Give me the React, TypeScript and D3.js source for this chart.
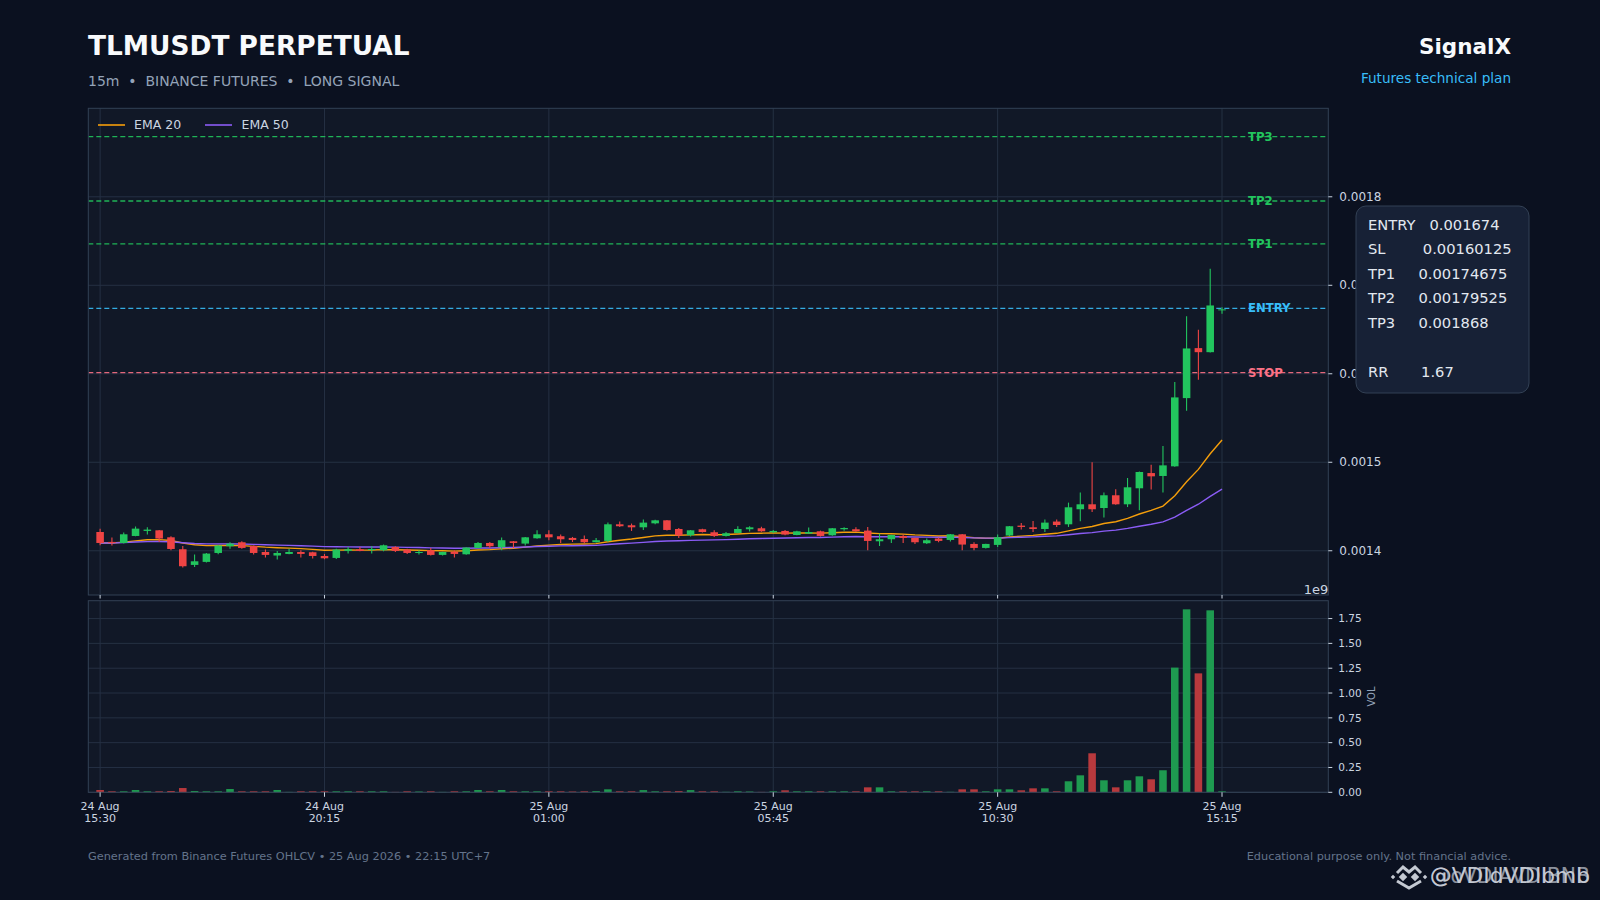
import * as React from 'react';
import * as d3 from 'd3';

const W = 1600;
const H = 900;

// 15m candles, 24 Aug 15:30 -> 25 Aug 15:15
const opens = [
  0.0014212, 0.00141, 0.0014088, 0.0014167, 0.0014224, 0.0014231, 0.0014152, 0.0014017, 0.001384, 0.0013874,
  0.0013975, 0.0014051, 0.0014096, 0.0014054, 0.0013986, 0.0013946, 0.0013964, 0.0013986, 0.0013983, 0.0013941,
  0.0013919, 0.0013998, 0.0014017, 0.0014009, 0.0014006, 0.0014043, 0.0014014, 0.0013975, 0.0014006, 0.0013953,
  0.001399, 0.001396, 0.0014032, 0.0014088, 0.001404, 0.0014107, 0.0014081, 0.0014141, 0.0014186, 0.0014164,
  0.0014145, 0.0014133, 0.0014096, 0.0014111, 0.0014299, 0.0014288, 0.0014265, 0.001431, 0.0014344, 0.0014246,
  0.0014175, 0.0014243, 0.0014209, 0.0014167, 0.0014201, 0.0014243, 0.0014254, 0.0014209, 0.0014224, 0.0014178,
  0.0014194, 0.001422, 0.0014175, 0.0014243, 0.0014243, 0.0014228, 0.0014107, 0.001413, 0.0014167, 0.0014145,
  0.0014085, 0.0014138, 0.0014122, 0.0014186, 0.0014077, 0.0014032, 0.0014066, 0.0014172, 0.0014284, 0.0014265,
  0.0014246, 0.001433, 0.0014299, 0.0014469, 0.0014525, 0.0014483, 0.0014627, 0.0014525, 0.0014706, 0.0014878,
  0.0014845, 0.0014954, 0.0015725, 0.001629, 0.0016244, 0.001672,
];
const highs = [
  0.001425, 0.0014149, 0.0014205, 0.0014273, 0.0014265, 0.0014235, 0.0014164, 0.0014054, 0.0013957, 0.0013975,
  0.0014062, 0.0014096, 0.0014107, 0.001406, 0.0014014, 0.0013998, 0.0014024, 0.0014006, 0.001399, 0.0013964,
  0.0014024, 0.0014043, 0.0014043, 0.0014051, 0.001407, 0.0014051, 0.0014024, 0.0014006, 0.0014032, 0.001399,
  0.0014006, 0.001404, 0.0014099, 0.0014099, 0.0014149, 0.001411, 0.0014156, 0.0014231, 0.0014231, 0.0014183,
  0.0014156, 0.0014172, 0.0014145, 0.0014318, 0.001433, 0.0014307, 0.0014352, 0.001435, 0.0014348, 0.0014257,
  0.0014235, 0.001425, 0.0014231, 0.0014212, 0.0014277, 0.0014277, 0.001427, 0.0014235, 0.0014235, 0.0014225,
  0.0014262, 0.0014228, 0.0014258, 0.0014265, 0.0014265, 0.0014269, 0.0014194, 0.001418, 0.0014183, 0.0014148,
  0.0014138, 0.0014149, 0.001419, 0.001419, 0.0014096, 0.001408, 0.0014183, 0.001428, 0.0014314, 0.0014336,
  0.0014352, 0.0014352, 0.0014544, 0.0014657, 0.0014999, 0.0014657, 0.0014694, 0.0014822, 0.0014895, 0.0014973,
  0.0015183, 0.0015906, 0.0016651, 0.0016497, 0.0017186, 0.0016752,
];
const lows = [
  0.0014062, 0.0014059, 0.0014081, 0.0014164, 0.0014183, 0.0014099, 0.0014006, 0.001381, 0.0013817, 0.0013868,
  0.001396, 0.0014024, 0.0014024, 0.0013957, 0.0013923, 0.0013901, 0.001396, 0.0013923, 0.0013912, 0.0013904,
  0.0013907, 0.0013968, 0.0013994, 0.0013968, 0.0013994, 0.0013986, 0.0013964, 0.0013957, 0.0013946, 0.0013946,
  0.0013923, 0.0013955, 0.0014028, 0.0014032, 0.0014006, 0.0014032, 0.001406, 0.0014135, 0.0014119, 0.0014088,
  0.0014099, 0.0014085, 0.0014092, 0.0014099, 0.0014269, 0.0014224, 0.0014235, 0.00143, 0.001423, 0.0014145,
  0.001416, 0.0014205, 0.0014156, 0.001416, 0.0014198, 0.0014217, 0.0014215, 0.00142, 0.0014175, 0.0014175,
  0.001419, 0.001416, 0.001417, 0.0014225, 0.0014215, 0.0014006, 0.0014054, 0.0014088, 0.0014088, 0.0014077,
  0.0014077, 0.0014096, 0.0014104, 0.0014006, 0.0014006, 0.0014025, 0.0014043, 0.0014165, 0.0014239, 0.0014212,
  0.0014212, 0.0014269, 0.0014269, 0.0014333, 0.0014438, 0.0014375, 0.001452, 0.0014494, 0.0014457, 0.0014691,
  0.0014657, 0.001495, 0.0015583, 0.0015933, 0.001624, 0.0016678,
];
const closes = [
  0.0014088, 0.001409, 0.0014186, 0.001425, 0.0014239, 0.0014138, 0.001402, 0.0013825, 0.0013881, 0.0013968,
  0.0014059, 0.0014081, 0.0014032, 0.0013975, 0.0013953, 0.0013975, 0.0013986, 0.0013964, 0.0013941, 0.0013915,
  0.0014014, 0.0014017, 0.0013998, 0.001402, 0.0014062, 0.0013998, 0.0013975, 0.0013986, 0.0013953, 0.0013986,
  0.0013964, 0.0014036, 0.0014088, 0.0014051, 0.0014119, 0.0014088, 0.0014152, 0.0014186, 0.0014152, 0.001413,
  0.0014122, 0.0014096, 0.0014119, 0.0014299, 0.0014277, 0.0014265, 0.0014318, 0.0014344, 0.0014235, 0.0014172,
  0.0014231, 0.0014212, 0.0014167, 0.0014198, 0.0014246, 0.0014265, 0.001422, 0.0014224, 0.0014183, 0.001422,
  0.0014212, 0.0014167, 0.0014254, 0.0014257, 0.001422, 0.0014111, 0.001413, 0.0014178, 0.0014145, 0.0014096,
  0.0014119, 0.0014111, 0.0014186, 0.001407, 0.0014032, 0.0014077, 0.0014152, 0.0014277, 0.0014269, 0.0014246,
  0.0014318, 0.0014291, 0.0014491, 0.0014525, 0.0014469, 0.0014627, 0.0014525, 0.0014717, 0.001489, 0.0014841,
  0.0014965, 0.0015733, 0.0016286, 0.0016244, 0.0016772, 0.0016728,
];
const volumes = [
  23e6, 10e6, 10e6, 23e6, 10e6, 10e6, 13e6, 43e6, 13e6, 10e6,
  10e6, 33e6, 10e6, 10e6, 10e6, 23e6, 4e6, 10e6, 10e6, 10e6,
  10e6, 10e6, 10e6, 10e6, 10e6, 4e6, 10e6, 8e6, 10e6, 4e6,
  10e6, 10e6, 23e6, 10e6, 23e6, 10e6, 10e6, 10e6, 10e6, 10e6,
  8e6, 10e6, 12e6, 30e6, 10e6, 10e6, 22e6, 10e6, 10e6, 12e6,
  22e6, 10e6, 10e6, 5e6, 10e6, 8e6, 4e6, 10e6, 20e6, 10e6,
  10e6, 10e6, 10e6, 10e6, 10e6, 50e6, 50e6, 10e6, 10e6, 10e6,
  10e6, 10e6, 5e6, 30e6, 30e6, 10e6, 30e6, 30e6, 20e6, 40e6,
  40e6, 10e6, 111e6, 171e6, 393e6, 121e6, 50e6, 121e6, 161e6, 131e6,
  222e6, 1256e6, 1843e6, 1198e6, 1833e6, 10e6,
];

const xTickIndex = [0, 19, 38, 57, 76, 95];
const xTickDates = ['24 Aug', '24 Aug', '25 Aug', '25 Aug', '25 Aug', '25 Aug'];
const xTickTimes = ['15:30', '20:15', '01:00', '05:45', '10:30', '15:15'];
const priceTicks = [0.0014, 0.0015, 0.0016, 0.0017, 0.0018];
const volumeTicks = [0, 0.25e9, 0.5e9, 0.75e9, 1e9, 1.25e9, 1.5e9, 1.75e9];

const levelNames = ['TP3', 'TP2', 'TP1', 'ENTRY', 'STOP'];
const levelValues = [0.001868, 0.00179525, 0.00174675, 0.001674, 0.00160125];
const levelColors = ['#22c55e', '#22c55e', '#22c55e', '#38bdf8', '#fb7185'];

const planLines = [
  'ENTRY   0.001674',
  'SL        0.00160125',
  'TP1     0.00174675',
  'TP2     0.00179525',
  'TP3     0.001868',
  '',
  'RR       1.67',
];

const FONT = "'DejaVu Sans', sans-serif";
const UP = '#22c55e';
const DOWN = '#ef4444';

const ema = (vals: number[], span: number) => {
  const k = 2 / (span + 1);
  const out: number[] = [];
  vals.forEach((v, i) => out.push(i === 0 ? v : out[i - 1] + k * (v - out[i - 1])));
  return out;
};

export default function App() {
  const left = 88.3;
  const right = 1328.3;
  const pTop = 108.3;
  const pBottom = 595;
  const vTop = 600.7;
  const vBottom = 792.3;

  const x = d3.scaleLinear().domain([-1, 104]).range([left, right]);
  const y = d3.scaleLinear().domain([0.00135, 0.0019]).range([pBottom, pTop]);
  const yv = d3.scaleLinear().domain([0, 1.93e9]).range([vBottom, vTop]);
  const step = x(1) - x(0);
  const bodyW = step * 0.64;

  const ema20 = ema(closes, 20);
  const ema50 = ema(closes, 50);
  const line = d3
    .line<number>()
    .x((_, i) => x(i))
    .y(d => y(d));

  return (
    <svg
      width={W}
      height={H}
      style={{ position: 'fixed', left: 0, top: 0, fontFamily: FONT }}
    >
      <defs>
        <clipPath id='priceClip'>
          <rect x={left} y={pTop} width={right - left} height={pBottom - pTop} />
        </clipPath>
      </defs>
      <rect width={W} height={H} fill='#0b1120' />

      {/* header */}
      <text x={88} y={54.5} fontSize={26.4} fontWeight='bold' fill='#f8fafc'>
        TLMUSDT PERPETUAL
      </text>
      <text x={88} y={86} fontSize={14} fill='#94a3b8' style={{ whiteSpace: 'pre' }}>
        {'15m  •  BINANCE FUTURES  •  LONG SIGNAL'}
      </text>
      <text x={1511} y={54} fontSize={21.5} fontWeight='bold' fill='#f8fafc' textAnchor='end'>
        SignalX
      </text>
      <text x={1511} y={83} fontSize={13.6} fill='#38bdf8' textAnchor='end'>
        Futures technical plan
      </text>

      {/* price panel */}
      <rect x={left} y={pTop} width={right - left} height={pBottom - pTop} fill='#111827' />
      {xTickIndex.map(i => (
        <line key={'gx' + i} x1={x(i)} x2={x(i)} y1={pTop} y2={pBottom} stroke='#253043' strokeWidth={1} />
      ))}
      {priceTicks.map(t => (
        <line key={'gy' + t} x1={left} x2={right} y1={y(t)} y2={y(t)} stroke='#253043' strokeWidth={1} />
      ))}

      <g clipPath='url(#priceClip)'>
        {levelValues.map((v, i) => (
          <line
            key={levelNames[i]}
            x1={left}
            x2={right}
            y1={y(v)}
            y2={y(v)}
            stroke={levelColors[i]}
            strokeWidth={1.3}
            strokeDasharray='5 3'
            opacity={0.9}
          />
        ))}
        <path d={line(ema20) ?? ''} fill='none' stroke='#f59e0b' strokeWidth={1.4} />
        <path d={line(ema50) ?? ''} fill='none' stroke='#8b5cf6' strokeWidth={1.4} />
        {closes.map((c, i) => {
          const o = opens[i];
          const col = c >= o ? UP : DOWN;
          const top = y(Math.max(o, c));
          const h = Math.max(1, y(Math.min(o, c)) - top);
          return (
            <g key={'c' + i}>
              <line x1={x(i)} x2={x(i)} y1={y(highs[i])} y2={y(lows[i])} stroke={col} strokeWidth={1.1} />
              <rect x={x(i) - bodyW / 2} y={top} width={bodyW} height={h} fill={col} />
            </g>
          );
        })}
        {levelValues.map((v, i) => (
          <text
            key={'lt' + i}
            x={x(97.2)}
            y={y(v)}
            dy='0.35em'
            fontSize={11.7}
            fontWeight='bold'
            fill={levelColors[i]}
          >
            {levelNames[i]}
          </text>
        ))}
      </g>
      <rect x={left} y={pTop} width={right - left} height={pBottom - pTop} fill='none' stroke='#334155' />
      {xTickIndex.map(i => (
        <line key={'pt' + i} x1={x(i)} x2={x(i)} y1={pBottom} y2={pBottom + 3.5} stroke='#cbd5e1' />
      ))}
      {priceTicks.map(t => (
        <g key={'pl' + t}>
          <line x1={right} x2={right + 4} y1={y(t)} y2={y(t)} stroke='#cbd5e1' />
          <text x={right + 11} y={y(t)} dy='0.35em' fontSize={12} fill='#cbd5e1'>
            {t.toFixed(4)}
          </text>
        </g>
      ))}

      {/* legend */}
      <line x1={98} x2={125} y1={125} y2={125} stroke='#f59e0b' strokeWidth={1.6} />
      <text x={134} y={125} dy='0.35em' fontSize={12.5} fill='#cbd5e1'>EMA 20</text>
      <line x1={205} x2={232} y1={125} y2={125} stroke='#8b5cf6' strokeWidth={1.6} />
      <text x={241.5} y={125} dy='0.35em' fontSize={12.5} fill='#cbd5e1'>EMA 50</text>

      {/* volume panel */}
      <rect x={left} y={vTop} width={right - left} height={vBottom - vTop} fill='#111827' />
      {xTickIndex.map(i => (
        <line key={'vgx' + i} x1={x(i)} x2={x(i)} y1={vTop} y2={vBottom} stroke='#253043' strokeWidth={1} />
      ))}
      {volumeTicks.map(t => (
        <line key={'vgy' + t} x1={left} x2={right} y1={yv(t)} y2={yv(t)} stroke='#253043' strokeWidth={1} />
      ))}
      {volumes.map((v, i) => (
        <rect
          key={'v' + i}
          x={x(i) - bodyW / 2}
          y={yv(v)}
          width={bodyW}
          height={vBottom - yv(v)}
          fill={closes[i] >= opens[i] ? '#1e9a50' : '#b8393d'}
        />
      ))}
      <rect x={left} y={vTop} width={right - left} height={vBottom - vTop} fill='none' stroke='#334155' />
      {volumeTicks.map(t => (
        <g key={'vl' + t}>
          <line x1={right} x2={right + 4} y1={yv(t)} y2={yv(t)} stroke='#cbd5e1' />
          <text x={right + 10} y={yv(t)} dy='0.35em' fontSize={10.5} fill='#cbd5e1'>
            {(t / 1e9).toFixed(2)}
          </text>
        </g>
      ))}
      <text x={right} y={594} fontSize={13} fill='#cbd5e1' textAnchor='end'>1e9</text>
      <text
        transform={`translate(1375 ${(vTop + vBottom) / 2}) rotate(-90)`}
        textAnchor='middle'
        fontSize={10}
        fill='#94a3b8'
      >
        VOL
      </text>
      {xTickIndex.map((i, k) => (
        <g key={'xl' + i}>
          <line x1={x(i)} x2={x(i)} y1={vBottom} y2={vBottom + 4.5} stroke='#cbd5e1' />
          <text x={x(i)} y={810} fontSize={11} fill='#cbd5e1' textAnchor='middle'>
            {xTickDates[k]}
          </text>
          <text x={x(i)} y={821.5} fontSize={11} fill='#cbd5e1' textAnchor='middle'>
            {xTickTimes[k]}
          </text>
        </g>
      ))}

      {/* trade plan box */}
      <rect x={1356} y={206} width={173} height={187} rx={10} fill='#172136' stroke='#334155' />
      {planLines.map((s, i) => (
        <text
          key={'pl' + i}
          x={1368}
          y={229.6 + i * 24.6}
          fontSize={14.7}
          fill='#e2e8f0'
          style={{ whiteSpace: 'pre' }}
        >
          {s}
        </text>
      ))}

      {/* footer */}
      <text x={88} y={860} fontSize={11.3} fill='#64748b'>
        Generated from Binance Futures OHLCV • 25 Aug 2026 • 22:15 UTC+7
      </text>
      <text x={1511} y={860} fontSize={11.3} fill='#64748b' textAnchor='end'>
        Educational purpose only. Not financial advice.
      </text>

      {/* watermark */}
      <g fill='#d9dee6' stroke='#d9dee6' opacity={0.9}>
        <polyline
          points='1397,873 1403,867 1409,872 1415,867 1421,873'
          fill='none'
          strokeWidth={3}
        />
        <polyline points='1397,881 1409,888 1421,881' fill='none' strokeWidth={3} />
        {[
          [1393, 877, 1.6],
          [1403, 877, 3],
          [1415, 877, 3],
          [1425, 877, 1.6],
        ].map(([cx, cy, r], k) => (
          <rect
            key={'wm' + k}
            x={cx - r}
            y={cy - r}
            width={r * 2}
            height={r * 2}
            stroke='none'
            transform={`rotate(45 ${cx} ${cy})`}
          />
        ))}
        <text x={1430} y={883} fontSize={21} stroke='none' textLength={160} lengthAdjust='spacingAndGlyphs'>
          @VDIdVDIbmb
        </text>
        <text
          x={1430}
          y={883}
          fontSize={21}
          stroke='none'
          opacity={0.7}
          textLength={160}
          lengthAdjust='spacingAndGlyphs'
        >
          @oVDIAVDIBNB
        </text>
      </g>
    </svg>
  );
}
